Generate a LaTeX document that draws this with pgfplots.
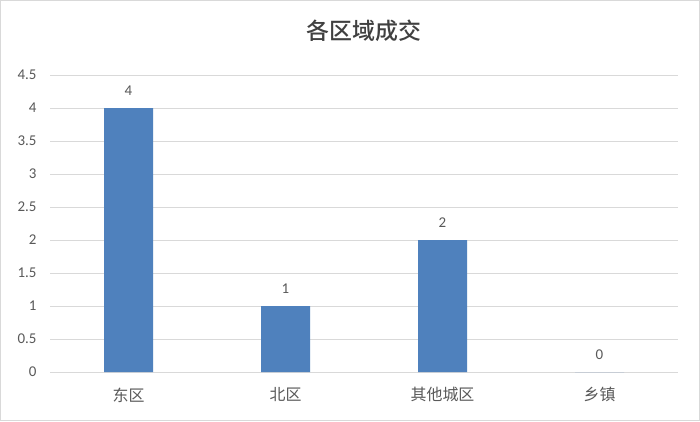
\documentclass[border=0pt]{standalone}
\usepackage{fontspec}
\setmainfont{Carlito}
\newfontfamily\cjk{Noto Sans CJK SC}
\newfontfamily\cjkb{Noto Sans CJK SC Medium}
\usepackage{pgfplots}
\pgfplotsset{compat=1.18}
\definecolor{barblue}{HTML}{4F81BD}
\definecolor{gridgray}{HTML}{D9D9D9}
\definecolor{txtgray}{HTML}{595959}
\begin{document}
\begin{tikzpicture}[x=1bp,y=1bp]
\useasboundingbox (0,0) rectangle (700,421);
\fill[white] (0,0) rectangle (700,421);
\draw[gridgray, line width=1bp] (0.5,0.5) rectangle (699.5,420.5);
\begin{axis}[
  at={(50bp,49bp)}, anchor=south west,
  scale only axis,
  width=628bp, height=297bp,
  ybar,
  bar width=49bp,
  xmin=-0.5, xmax=3.5,
  ymin=0, ymax=4.5,
  ytick={0,0.5,...,4.5},
  xtick={0,1,2,3},
  xticklabels={东区,北区,其他城区,乡镇},
  xticklabel style={font=\cjk\fontsize{16}{18}\selectfont, text=txtgray, yshift=-12bp},
  yticklabel style={font=\fontsize{15}{17}\selectfont, text=txtgray, xshift=-10bp},
  /pgf/number format/assume math mode=true,
  major tick length=0pt,
  ymajorgrids=true,
  grid style={gridgray, line width=0.8bp},
  axis x line*=bottom,
  axis y line*=left,
  y axis line style={draw=none},
  x axis line style={gridgray, line width=0.8bp},
  title={各区域成交},
  title style={font=\cjkb\fontsize{23}{26}\selectfont, text=black!75, at={(0.5,1)}, anchor=center, yshift=38bp},
  nodes near coords,
  every node near coord/.append style={font=\fontsize{15}{17}\selectfont, text=txtgray, yshift=9bp},
]
\addplot[draw=none, fill=barblue] coordinates {(0,4) (1,1) (2,2) (3,0)};
\end{axis}
\end{tikzpicture}
\end{document}
